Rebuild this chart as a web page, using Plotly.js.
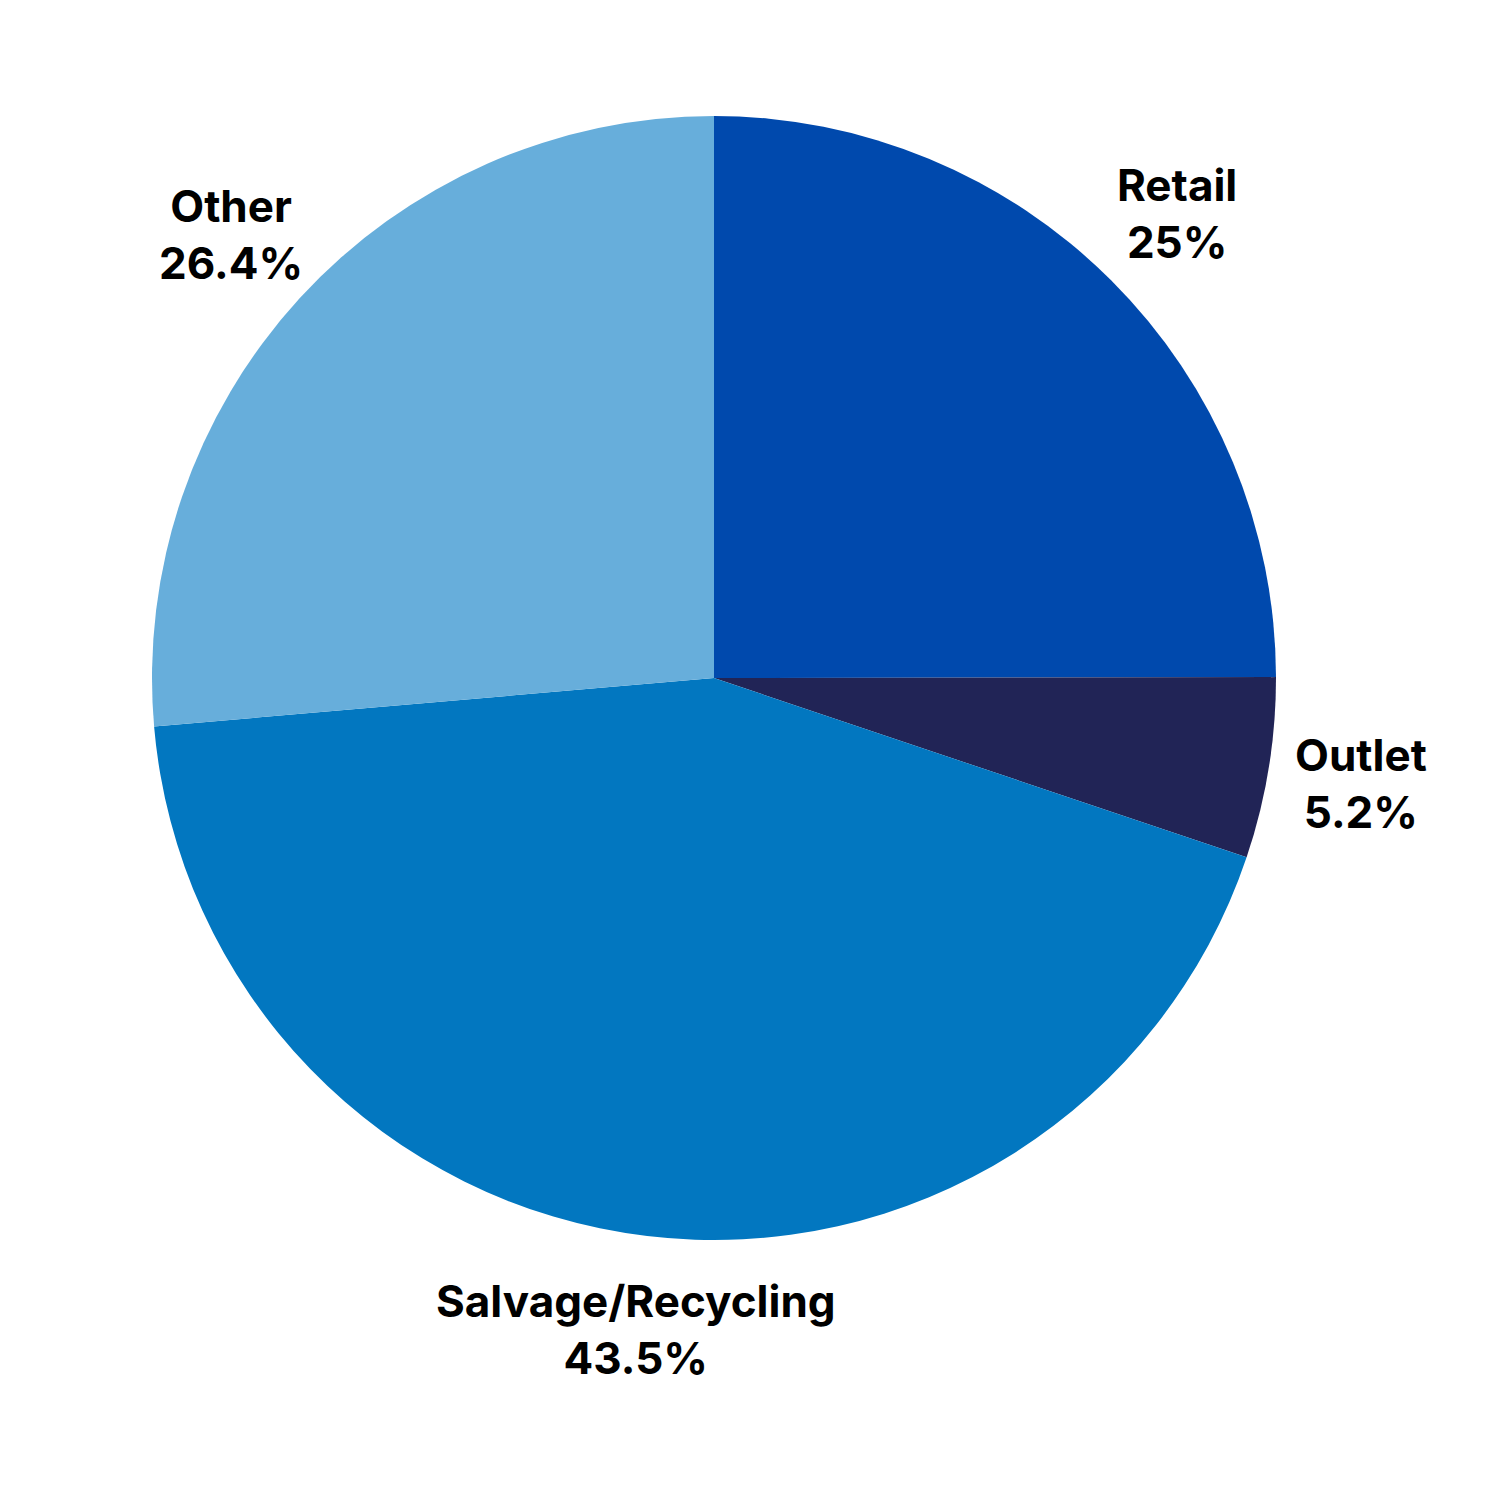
<!DOCTYPE html>
<html>
<head>
<meta charset="utf-8">
<script src="https://cdn.plot.ly/plotly-3.0.1.min.js"></script>
<style>html,body{margin:0;padding:0;background:#fff;}#chart{width:1500px;height:1500px;}</style>
</head>
<body>
<div id="chart"></div>
<script>
const categories = ["Retail", "Outlet", "Salvage/Recycling", "Other"];
const shares = [25, 5.2, 43.5, 26.4];
const shareLabels = ["25%", "5.2%", "43.5%", "26.4%"];
const sliceColors = ["#0049AD", "#212456", "#0277C0", "#67AEDB"];

const W = 1500, H = 1500;
const dom = {x: [152/1500, 1276/1500], y: [1 - 1240/1500, 1 - 116/1500]};

const trace = {
  type: "pie",
  labels: categories,
  values: shares,
  sort: false,
  direction: "clockwise",
  rotation: 0,
  marker: {colors: sliceColors, line: {width: 0}},
  textinfo: "none",
  automargin: false,
  domain: dom,
  hoverinfo: "label+percent",
  showlegend: false
};

// label placement derived from the data: each label sits on its slice's mid-angle, outside the pie
const total = shares.reduce((a, b) => a + b, 0);
const cx = (dom.x[0] + dom.x[1]) / 2;
const cy = (dom.y[0] + dom.y[1]) / 2;
const rx = (dom.x[1] - dom.x[0]) / 2;
const ry = (dom.y[1] - dom.y[0]) / 2;
const labelFactor = 1.167;
let cum = 0;
const annotations = categories.map((c, i) => {
  const mid = (cum + shares[i] / 2) / total * 2 * Math.PI;
  cum += shares[i];
  return {
    xref: "paper", yref: "paper",
    x: cx + labelFactor * rx * Math.sin(mid),
    y: cy + labelFactor * ry * Math.cos(mid),
    xanchor: "center", yanchor: "middle",
    text: c + "<br>" + shareLabels[i],
    showarrow: false,
    align: "center",
    font: {family: "Inter, 'Open Sans', sans-serif", size: 44, color: "#000", weight: 700}
  };
});

const layout = {
  width: W, height: H,
  margin: {l: 0, r: 0, t: 0, b: 0},
  paper_bgcolor: "#fff",
  showlegend: false,
  annotations: annotations
};

Plotly.newPlot("chart", [trace], layout, {staticPlot: true});
</script>
</body>
</html>
